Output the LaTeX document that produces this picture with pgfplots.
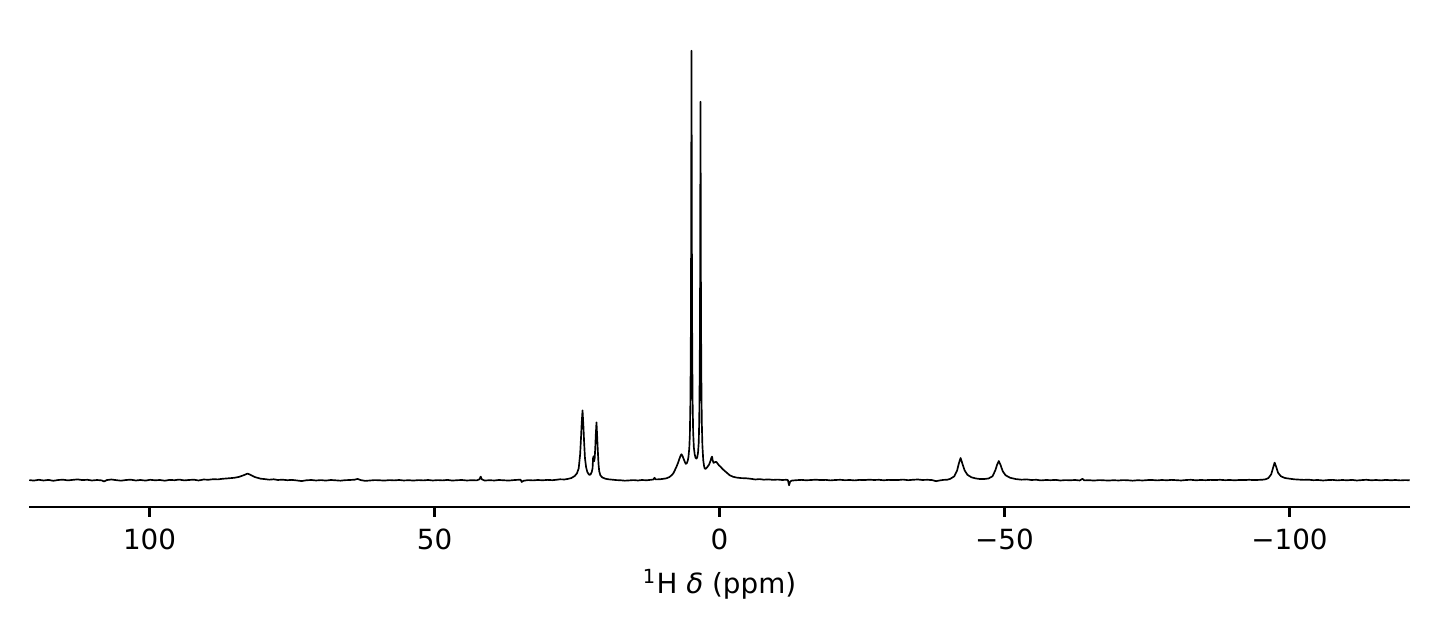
\documentclass[border=0pt]{standalone}
\usepackage{fontspec}
\setmainfont{DejaVu Sans}
\usepackage{pgfplots}
\pgfplotsset{compat=1.18}
\begin{document}
\begin{tikzpicture}
\useasboundingbox (-10.44pt,-47.88pt) rectangle (507.96pt,182.52pt);
\begin{axis}[
  scale only axis,
  width=497.16pt, height=172.08pt,
  xmin=-121.15, xmax=121.15,
  ymin=-26.75, ymax=451.75,
  x dir=reverse,
  axis x line*=bottom,
  axis y line=none,
  axis line style={-, line width=0.8pt, black},
  xtick={-100,-50,0,50,100},
  xticklabels={−100,−50,0,50,100},
  ytick=\empty,
  tick align=outside,
  major tick length=3.5pt,
  xtick style={line width=0.8pt, black},
  xticklabel style={font=\fontsize{10}{12}\selectfont, yshift=-1pt},
  xlabel={\textsuperscript{1}H \textit{δ} (ppm)},
  xlabel style={font=\fontsize{10}{12}\selectfont, yshift=0pt},
]
\addplot[black, line width=0.6pt, line join=round, mark=none] coordinates {
(121.1,0.2) (120.3,-0.3) (119.4,0.5) (118.6,-0.2) (117.7,0.4) (116.9,-0.5) (116.0,0.3) (115.2,0.6)
(114.3,-0.1) (113.5,0.4) (112.6,0.9) (111.8,0.2) (110.9,0.5) (110.1,-0.2) (109.2,0.3) (108.4,-0.1)
(108.0,-1.2) (107.5,0.2) (106.7,0.8) (105.8,0.1) (105.0,-0.4) (104.1,0.3) (103.3,0.6) (102.4,-0.2)
(101.6,0.3) (100.7,-0.3) (99.9,0.5) (99.0,0.0) (98.2,0.3) (97.3,-0.4) (96.5,0.4) (95.6,0.1)
(94.8,0.7) (93.9,-0.1) (93.1,0.3) (92.2,0.6) (91.4,-0.2) (90.5,0.8) (89.7,0.5) (88.8,1.1)
(88.0,0.9) (87.2,1.5) (86.5,1.8) (85.7,2.2) (85.0,2.6) (84.3,3.4) (83.8,4.4) (83.3,5.5)
(82.8,6.7) (82.4,5.8) (82.0,4.6) (81.5,3.2) (81.0,2.4) (80.5,1.6) (79.8,1.2) (79.0,0.6)
(78.2,1.0) (77.5,0.3) (76.7,0.6) (75.8,0.1) (75.0,0.4) (74.1,-0.2) (73.3,-0.8) (72.5,0.0)
(71.6,0.3) (70.8,-0.2) (69.9,0.2) (69.1,-0.3) (68.2,0.3) (67.4,0.0) (66.5,-0.4) (65.7,0.1)
(64.8,0.3) (64.0,0.6) (63.5,1.4) (63.0,0.3) (62.2,-0.6) (61.3,-0.2) (60.5,0.2) (59.6,0.0)
(58.8,-0.3) (57.9,0.2) (57.1,-0.1) (56.2,0.3) (55.4,-0.2) (54.5,0.1) (53.7,-0.3) (52.8,0.2)
(52.0,-0.1) (51.1,0.3) (50.3,-0.2) (49.4,0.2) (48.6,-0.1) (47.7,0.4) (46.9,-0.3) (46.0,0.1)
(45.2,0.3) (44.3,-0.2) (43.5,0.1) (42.6,-0.1) (42.1,1.0) (41.9,3.7) (41.7,1.0) (41.2,-0.3)
(40.4,0.1) (39.5,-0.2) (38.7,0.3) (37.8,0.0) (37.0,-0.3) (36.1,0.2) (35.3,0.5) (34.9,0.6)
(34.7,-1.7) (34.4,-0.5) (33.6,0.2) (32.7,-0.1) (31.9,0.3) (31.0,0.0) (30.2,0.4) (29.3,0.1)
(28.5,0.6) (28.0,1.0) (27.2,0.8) (26.6,1.4) (26.0,2.2) (25.4,4.3) (25.0,7) (24.7,12)
(24.45,26) (24.3,42) (24.18,57) (24.03,70) (23.88,55) (23.75,38) (23.6,22) (23.4,13)
(23.2,8.5) (23.0,6.5) (22.8,5.3) (22.6,6) (22.4,8.5) (22.27,12) (22.18,22) (22.1,24)
(22.0,19) (21.9,22) (21.8,32) (21.7,46) (21.58,58) (21.47,45) (21.35,30) (21.22,16)
(21.1,9) (20.9,5) (20.6,3) (20.1,1.7) (19.5,1.0) (18.8,0.6) (18.1,0.2) (17.3,0.0)
(16.6,-0.4) (15.8,-0.1) (15.1,0.2) (14.3,-0.2) (13.6,0.3) (12.8,0.0) (12.0,0.5) (11.6,0.8)
(11.4,2.5) (11.2,0.9) (10.5,1.0) (9.8,1.5) (9.3,2) (8.8,3.2) (8.4,5) (8.1,7)
(7.84,10) (7.55,13.5) (7.26,17.7) (7.0,22) (6.8,25) (6.67,26) (6.5,24.5) (6.26,21)
(6.05,18) (5.91,16.5) (5.75,17) (5.6,19) (5.45,23) (5.3,32) (5.2,45) (5.1,80)
(5.03,140) (4.98,230) (4.94,340) (4.91,430) (4.88,340) (4.84,230) (4.79,140) (4.72,80)
(4.62,48) (4.5,33) (4.35,26) (4.2,22.5) (4.04,21.7) (3.9,23) (3.76,28) (3.64,38)
(3.55,60) (3.46,115) (3.40,200) (3.36,300) (3.33,379) (3.30,300) (3.26,200) (3.20,115)
(3.11,60) (3.0,35) (2.85,20) (2.7,14) (2.58,11.7) (2.4,11.5) (2.1,13.5) (1.8,16)
(1.55,20) (1.40,23) (1.30,23.7) (1.20,20) (1.05,17.5) (0.9,17.8) (0.7,18.4) (0.53,18.3)
(0.3,16.5) (0.1,15) (-0.2,13.5) (-0.5,11.5) (-0.93,9.3) (-1.3,7.5) (-1.8,5) (-2.4,3.5)
(-3.0,2.7) (-3.8,2.2) (-4.7,2) (-5.5,1.5) (-6.3,0.8) (-7.0,1.2) (-7.8,0.6) (-8.6,0.9)
(-9.4,0.4) (-10.2,0.7) (-11.0,0.3) (-11.7,0.5) (-12.0,0.2) (-12.2,-5) (-12.4,-1.2) (-12.7,-0.3)
(-13.5,0.1) (-14.4,0.4) (-15.2,0.0) (-16.1,0.3) (-16.9,0.6) (-17.8,0.2) (-18.6,0.4) (-19.5,-0.1)
(-20.3,0.3) (-21.2,0.5) (-22.0,0.1) (-22.9,0.3) (-23.7,-0.1) (-24.6,0.4) (-25.4,0.2) (-26.3,0.6)
(-27.1,0.3) (-28.0,0.5) (-28.8,0.0) (-29.7,0.4) (-30.5,0.2) (-31.4,0.3) (-32.2,0.7) (-33.1,0.1)
(-33.9,0.5) (-34.8,0.8) (-35.6,0.3) (-36.5,0.5) (-37.3,0.2) (-38.0,-0.9) (-38.6,-0.2) (-39.3,0.4)
(-40.0,0.6) (-40.5,1.5) (-41.2,4) (-41.7,10) (-42.0,17) (-42.3,22.3) (-42.6,17) (-43.0,10)
(-43.5,5.5) (-44.2,3) (-45.0,1.8) (-45.8,1.2) (-46.5,1.3) (-47.2,1.8) (-47.9,4) (-48.4,10)
(-48.7,15.5) (-49.0,19.3) (-49.3,15.5) (-49.7,9) (-50.2,5) (-51.0,2.5) (-52.0,1.2) (-53.0,0.6)
(-53.9,0.9) (-54.7,0.3) (-55.6,0.5) (-56.4,-0.1) (-57.3,0.3) (-58.1,0.1) (-59.0,0.4) (-59.8,-0.2)
(-60.7,0.2) (-61.5,0.0) (-62.4,0.3) (-63.2,-0.2) (-63.7,1.5) (-64.0,-0.1) (-64.9,0.1) (-65.7,-0.3)
(-66.6,0.2) (-67.4,0.0) (-68.3,-0.3) (-69.1,0.1) (-70.0,-0.2) (-70.8,0.2) (-71.7,0.0) (-72.5,-0.4)
(-73.4,0.1) (-74.2,-0.2) (-75.1,0.2) (-75.9,0.3) (-76.8,-0.1) (-77.6,0.3) (-78.5,0.0) (-79.3,0.4)
(-80.2,0.1) (-81.0,-0.2) (-81.9,0.3) (-82.7,0.5) (-83.6,0.0) (-84.4,0.3) (-85.3,0.1) (-86.1,0.4)
(-87.0,0.2) (-87.8,0.5) (-88.7,0.1) (-89.5,0.3) (-90.4,0.0) (-91.2,0.3) (-92.1,0.2) (-92.9,0.5)
(-93.8,0.2) (-94.6,0.4) (-95.3,0.6) (-95.8,1.0) (-96.3,2.2) (-96.8,6) (-97.1,12) (-97.4,17.7)
(-97.7,13) (-98.0,7.5) (-98.5,4) (-99.2,2.3) (-100.0,1.6) (-100.8,1.0) (-101.6,0.7) (-102.5,0.4)
(-103.3,0.6) (-104.2,0.1) (-105.0,0.3) (-105.9,-0.2) (-106.7,0.2) (-107.6,0.4) (-108.4,-0.1) (-109.3,0.3)
(-110.1,0.0) (-111.0,0.4) (-111.8,-0.2) (-112.7,0.2) (-113.5,0.5) (-114.4,0.0) (-115.2,0.3) (-116.1,-0.1)
(-116.9,0.4) (-117.8,0.0) (-118.6,0.3) (-119.5,-0.1) (-120.3,0.2) (-121.1,0.0)
};
\end{axis}
\end{tikzpicture}
\end{document}
